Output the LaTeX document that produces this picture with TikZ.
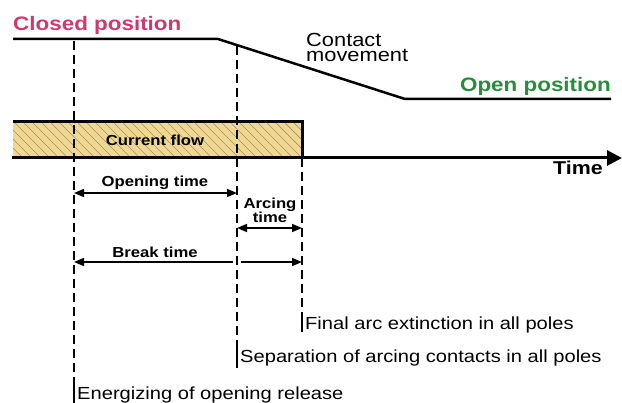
\documentclass[tikz,border=0pt]{standalone}
\usepackage{fontspec}
\setmainfont{Liberation Sans}
\newfontfamily\widesans[FakeStretch=1.15]{Liberation Sans}
\usetikzlibrary{arrows.meta}
\definecolor{closedcol}{RGB}{208,56,112}
\definecolor{opencol}{RGB}{40,140,60}
\definecolor{flowfill}{RGB}{240,216,146}
\definecolor{hatchcol}{RGB}{165,145,105}
\begin{document}
\begin{tikzpicture}[x=1pt,y=-1pt,
  contact/.style={line width=2.5pt},
  axisline/.style={line width=3pt,-{Triangle[length=15pt,width=15pt]}},
  marker/.style={line width=1.6pt,dash pattern=on 9pt off 5pt},
  tickbar/.style={line width=1.3pt},
  dimboth/.style={line width=1.5pt,{Triangle[length=10pt,width=8pt]}-{Triangle[length=10pt,width=8pt]}},
  dimleft/.style={line width=1.5pt,{Triangle[length=10pt,width=8pt]}-},
  dimright/.style={line width=1.5pt,-{Triangle[length=10pt,width=8pt]}},
  evlabel/.style={inner sep=0pt,anchor=base west,font=\widesans\fontsize{17.5}{20}\selectfont},
  poslabel/.style={inner sep=0pt,font=\widesans\bfseries\fontsize{19.5}{22}\selectfont},
  smalllabel/.style={inner sep=0pt,anchor=base,font=\widesans\bfseries\fontsize{14.5}{14}\selectfont}]
\useasboundingbox (0,0) rectangle (622,403);

% current flow band with hatching
\fill[flowfill] (13,122) rectangle (302,158);
\begin{scope}
  \clip (13,122) rectangle (302,158);
  \foreach \i in {-40,-31,...,300}
    \draw[hatchcol,line width=0.7pt] (\i,122) -- ++(36,36);
\end{scope}
\coordinate (fl0) at (13,122);
\coordinate (fl1) at (302,122);
\coordinate (fl2) at (302,158);
\draw[line width=3pt] (fl0) -- (fl1) -- (fl2);
\node[smalllabel] (flow) at (155,146) {Current flow};

% time axis
\coordinate (ax0) at (12,158);
\coordinate (ax1) at (622,158);
\draw[axisline] (ax0) -- (ax1);
\node[inner sep=0pt,anchor=base,font=\widesans\bfseries\fontsize{18.6}{20}\selectfont] (time) at (578,175) {Time};

% contact travel
\coordinate (c0) at (13,39);
\coordinate (c1) at (218,39);
\coordinate (c2) at (405,99);
\coordinate (c3) at (611,99);
\draw[contact] (c0) -- (c1) -- (c2) -- (c3);
\node[poslabel,text=closedcol,anchor=base west] (closed) at (13,31) {Closed position};
\node[poslabel,text=opencol,anchor=base east] (open) at (611,92) {Open position};
\node[inner sep=0pt,anchor=base west,align=left,
      font=\widesans\fontsize{19}{15}\selectfont] (move) at (306,62) {Contact\\movement};

% event markers
\coordinate (e0) at (74,41);
\coordinate (e1) at (74,382);
\coordinate (e2) at (74,403);
\coordinate (s0) at (237,46);
\coordinate (s1) at (237,345);
\coordinate (s2) at (237,368);
\coordinate (f0) at (302,158);
\coordinate (f1) at (302,316);
\coordinate (f2) at (302,332);
\draw[marker] (e0) -- (e1);
\draw[marker] (s0) -- (s1);
\draw[marker] (f0) -- (f1);
\draw[tickbar] (e1) -- (e2);
\draw[tickbar] (s1) -- (s2);
\draw[tickbar] (f1) -- (f2);
\node[evlabel] (final) at (305,330) {Final arc extinction in all poles};
\node[evlabel] (sep) at (240,363) {Separation of arcing contacts in all poles};
\node[evlabel] (energ) at (77,400) {Energizing of opening release};

% time intervals
\coordinate (o0) at (74,193);
\coordinate (o1) at (237,193);
\draw[dimboth] (o0) -- (o1);
\node[smalllabel] (optime) at (155,187) {Opening time};

\coordinate (a0) at (237,228);
\coordinate (a1) at (302,228);
\draw[dimboth] (a0) -- (a1);
\node[smalllabel,align=center] (arc) at (270,223) {Arcing\\time};

\coordinate (b0) at (74,262);
\coordinate (b1) at (233,262);
\coordinate (b2) at (241,262);
\coordinate (b3) at (302,262);
\draw[dimleft] (b0) -- (b1);
\draw[dimright] (b2) -- (b3);
\node[smalllabel] (brk) at (155,258) {Break time};
\end{tikzpicture}
\end{document}
